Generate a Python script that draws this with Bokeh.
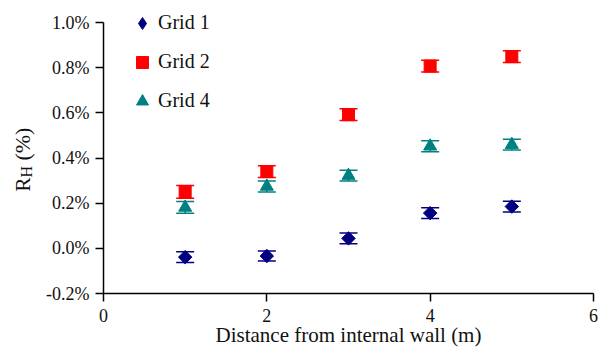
from bokeh.plotting import figure
from bokeh.models import (ColumnDataSource, Whisker, TeeHead, Legend, LegendItem,
                          Label, FixedTicker, PrintfTickFormatter, Range1d)
from bokeh.embed import file_html
from bokeh.resources import INLINE
import math

# ---- data ----
distance = [1, 2, 3, 4, 5]
grid1 = [-0.039, -0.034, 0.044, 0.156, 0.185]
grid1_err = [0.024, 0.022, 0.024, 0.024, 0.024]
grid2 = [0.250, 0.340, 0.592, 0.807, 0.849]
grid2_err = [0.028, 0.026, 0.026, 0.026, 0.026]
grid4 = [0.181, 0.274, 0.322, 0.452, 0.459]
grid4_err = [0.026, 0.024, 0.024, 0.024, 0.024]
series_names = ["Grid 1", "Grid 2", "Grid 4"]
x_ticks = [0, 2, 4, 6]
y_ticks = [-0.2, 0.0, 0.2, 0.4, 0.6, 0.8, 1.0]
x_bounds = (0, 6)
y_bounds = (-0.2, 1.0)

SERIF = "Liberation Serif"

# canvas geometry (pixels): axes box from (103, 22) to (593, 293)
W, H = 598, 348
AX_L, AX_R, AX_T, AX_B = 103, 593, 22, 293
xs = (AX_R - AX_L) / (x_bounds[1] - x_bounds[0])
ys = (AX_B - AX_T) / (y_bounds[1] - y_bounds[0])
x_range = Range1d(x_bounds[0] - AX_L / xs, x_bounds[1] + (W - AX_R) / xs)
y_range = Range1d(y_bounds[0] - (H - AX_B) / ys, y_bounds[1] + AX_T / ys)

p = figure(width=W, height=H, x_range=x_range, y_range=y_range,
           output_backend="svg", toolbar_location=None, min_border=0)
p.outline_line_color = None
p.xgrid.visible = False
p.ygrid.visible = False
p.background_fill_color = "white"
p.border_fill_color = "white"

for ax in (p.xaxis[0], p.yaxis[0]):
    ax.axis_line_color = "black"
    ax.axis_line_width = 1.5
    ax.major_tick_line_color = "black"
    ax.major_tick_line_width = 1.5
    ax.major_tick_in = 0
    ax.major_tick_out = 8
    ax.minor_tick_line_color = None
    ax.major_label_text_font = SERIF
    ax.major_label_text_font_size = "18px"
    ax.major_label_text_color = "#111111"

p.xaxis.fixed_location = y_bounds[0]
p.yaxis.fixed_location = x_bounds[0]
p.xaxis.bounds = x_bounds
p.yaxis.bounds = y_bounds
p.xaxis.ticker = FixedTicker(ticks=x_ticks)
p.yaxis.ticker = FixedTicker(ticks=y_ticks)
p.yaxis.formatter = PrintfTickFormatter(format="%.1f%%")
p.xaxis.major_label_standoff = 7
p.yaxis.major_label_standoff = 6
p.xaxis.axis_label = "Distance from internal wall (m)"
p.xaxis.axis_label_text_font = SERIF
p.xaxis.axis_label_text_font_size = "21px"
p.xaxis.axis_label_text_font_style = "normal"
p.xaxis.axis_label_text_color = "#111111"
p.xaxis.axis_label_standoff = -2

colors = ["#000080", "#FF0000", "#008080"]
values = [grid1, grid2, grid4]
errors = [grid1_err, grid2_err, grid4_err]
markers = ["square", "square", "triangle"]
angles = [math.pi / 4, 0, 0]
sizes = [9.5, 12, 13]
legend_markers = ["diamond", "square", "triangle"]
legend_sizes = [15, 12, 13]

items = []
for name, vals, errs, col, mk, ang, sz, lmk, lsz in zip(
        series_names, values, errors, colors, markers, angles, sizes,
        legend_markers, legend_sizes):
    src = ColumnDataSource(dict(
        x=distance, y=vals,
        upper=[v + e for v, e in zip(vals, errs)],
        lower=[v - e for v, e in zip(vals, errs)],
    ))
    w = Whisker(source=src, base="x", upper="upper", lower="lower", dimension="height",
                line_color=col, line_width=1.5,
                upper_head=TeeHead(size=18, line_color=col, line_width=1.5),
                lower_head=TeeHead(size=18, line_color=col, line_width=1.5))
    p.add_layout(w)
    p.scatter("x", "y", source=src, marker=mk, angle=ang, size=sz,
              fill_color=col, line_color=col)
    # legend swatch: a renderer whose only point is undefined (not drawn in the plot)
    key = p.scatter(x=[float("nan")], y=[float("nan")], marker=lmk, size=lsz,
                    fill_color=col, line_color=col)
    items.append(LegendItem(label=name, renderers=[key]))

legend = Legend(items=items, location=(127, 232.5), padding=0, margin=0,
                border_line_color=None, background_fill_alpha=0,
                glyph_width=30, glyph_height=30, label_height=30,
                spacing=9, label_standoff=1,
                label_text_font=SERIF, label_text_font_size="20px",
                label_text_color="#111111")
p.add_layout(legend)

# y axis title: R with subscript H, then (%)
lab_kw = dict(angle=90, angle_units="deg",
              text_font=SERIF, text_color="#111111", text_baseline="alphabetic",
              text_align="left")
p.add_layout(Label(x=-0.988, y=0.2515, text="R", text_font_size="21px", **lab_kw))
p.add_layout(Label(x=-0.939, y=0.3135, text="H", text_font_size="16px", **lab_kw))
p.add_layout(Label(x=-0.988, y=0.3888, text="(%)", text_font_size="22px", **lab_kw))

open("out.html", "w").write(file_html(p, INLINE))
